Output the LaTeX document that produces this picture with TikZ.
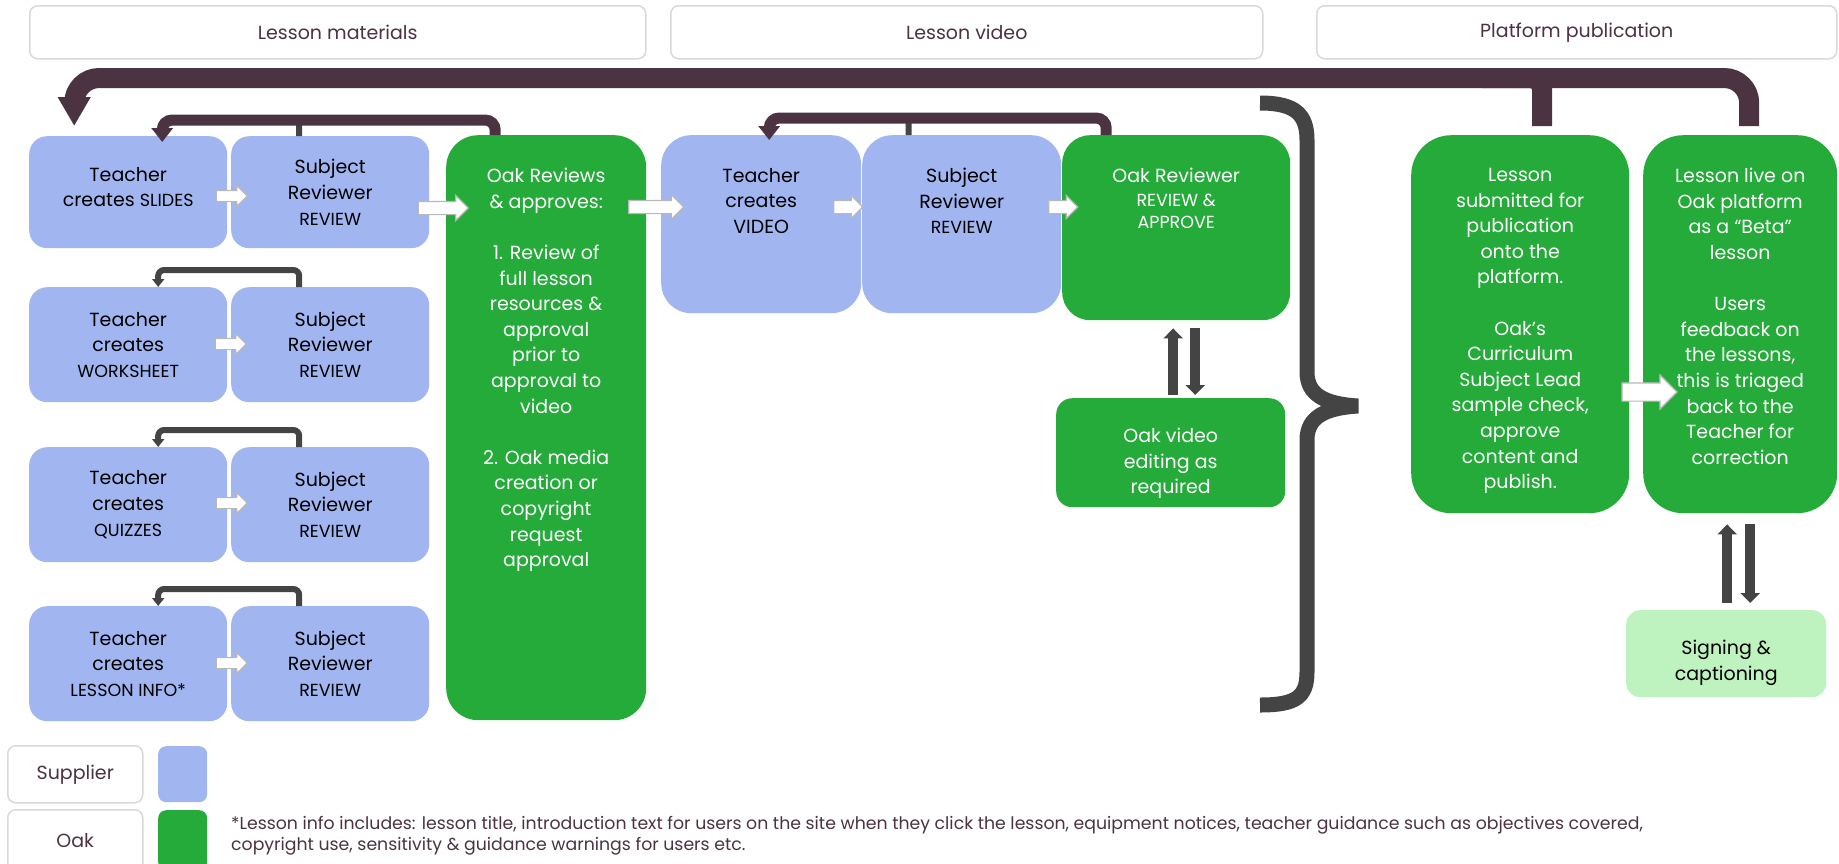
\documentclass[tikz,border=0pt]{standalone}
\usepackage{fontspec}
\setmainfont{Poppins}
\usetikzlibrary{arrows.meta,positioning,shapes.arrows}

\definecolor{supblue}{HTML}{A1B6F0}
\definecolor{oakgreen}{HTML}{25AB3A}
\definecolor{palegreen}{HTML}{BEF2BE}
\definecolor{plum}{HTML}{4B3342}
\definecolor{slate}{HTML}{444444}
\definecolor{rimgray}{HTML}{D9D9D9}

\newcommand{\boxfont}{\fontsize{19}{25.6}\selectfont}
\newcommand{\capsfont}{\fontsize{17.5}{25.6}\selectfont}
\newcommand{\notefont}{\fontsize{17.3}{21.5}\selectfont}

\begin{document}
\begin{tikzpicture}[x=1pt, y=-1pt,
    headbox/.style={draw=rimgray, line width=1.5pt, rounded corners=8pt, fill=white,
      text=plum, font=\boxfont, anchor=north west},
    supbox/.style={fill=supblue, rounded corners=18pt, anchor=north west, align=center, font=\boxfont},
    oakbox/.style={fill=oakgreen, rounded corners=30pt, anchor=north west, text=white, align=center, font=\boxfont},
    boxtext/.style={align=center, font=\boxfont, inner sep=0pt},
    flowarr/.style={single arrow, draw=black!28, fill=white, line width=1.2pt, inner sep=5pt,
      single arrow head extend=5pt, single arrow head indent=0pt},
    backloop/.style={draw=slate, line width=6pt, rounded corners=6pt, -{Triangle[length=8pt,width=12pt]}},
    oakloop/.style={draw=plum, line width=11pt, rounded corners=10pt, -{Triangle[length=14pt,width=21pt]}},
    bigloop/.style={draw=plum, line width=20pt, rounded corners=25pt, -{Triangle[length=29pt,width=31pt]}},
    swaparr/.style={draw=slate, line width=10pt, -{Triangle[length=10pt,width=19pt]}}
  ]
  \useasboundingbox (0,0) rectangle (1839,863);

  % stage headings
  \node[headbox, minimum width=616, minimum height=53] (hmat) at (29,5) {Lesson materials};
  \node[headbox, minimum width=592, minimum height=53] (hvid) at (670,5) {Lesson video};
  \node[headbox, minimum width=520, minimum height=53] (hpub) at (1316,5) {Platform publication};

  % lesson materials
  \node[supbox, minimum width=198, minimum height=112] (tslides) at (29,136) {};
  \node[boxtext, below=31pt of tslides.north] (tslidestxt) {Teacher\\creates {\capsfont SLIDES}};
  \node[supbox, minimum width=198, minimum height=112] (sslides) at (231,136) {Subject\\Reviewer\\{\capsfont REVIEW}};
  \node[supbox, minimum width=198, minimum height=115] (tsheet) at (29,287) {Teacher\\creates\\{\capsfont WORKSHEET}};
  \node[supbox, minimum width=198, minimum height=115] (ssheet) at (231,287) {Subject\\Reviewer\\{\capsfont REVIEW}};
  \node[supbox, minimum width=198, minimum height=115] (tquiz) at (29,447) {Teacher\\creates\\{\capsfont QUIZZES}};
  \node[supbox, minimum width=198, minimum height=115] (squiz) at (231,447) {Subject\\Reviewer\\{\capsfont REVIEW}};
  \node[supbox, minimum width=198, minimum height=115] (tinfo) at (29,606) {Teacher\\creates\\{\capsfont LESSON INFO*}};
  \node[supbox, minimum width=198, minimum height=115] (sinfo) at (231,606) {Subject\\Reviewer\\{\capsfont REVIEW}};

  \node[oakbox, minimum width=200, minimum height=585, rounded corners=32pt] (oakrev) at (446,135) {};
  \node[boxtext, text=white, below=33pt of oakrev.north] (oakrevtxt) {Oak Reviews\\\& approves:\\[25.6pt]
    1. Review of\\full lesson\\resources \&\\approval\\prior to\\approval to\\video\\[25.6pt]
    2. Oak media\\creation or\\copyright\\request\\approval};

  % lesson video
  \node[supbox, minimum width=200, minimum height=178, rounded corners=30pt] (tvideo) at (661,135) {};
  \node[boxtext, below=33pt of tvideo.north] (tvideotxt) {Teacher\\creates\\VIDEO};
  \node[supbox, minimum width=199, minimum height=178, rounded corners=30pt] (svideo) at (862,135) {};
  \node[boxtext, below=33pt of svideo.north] (svideotxt) {Subject\\Reviewer\\{\capsfont REVIEW}};
  \node[oakbox, minimum width=228, minimum height=185, rounded corners=28pt] (oakvid) at (1062,135) {};
  \node[boxtext, text=white, below=33pt of oakvid.north] (oakvidtxt) {Oak Reviewer\\[-2pt]{\capsfont REVIEW \&}\\[-3pt]{\capsfont APPROVE}};
  \node[oakbox, minimum width=229, minimum height=109, rounded corners=16pt] (vedit) at (1056,398) {};
  \node[boxtext, text=white, below=30pt of vedit.north] (vedittxt) {Oak video\\editing as\\required};

  % platform publication
  \node[oakbox, minimum width=218, minimum height=378, rounded corners=40pt] (submit) at (1411,135) {};
  \node[boxtext, text=white, below=33pt of submit.north] (submittxt) {Lesson\\submitted for\\publication\\onto the\\platform.\\[25.6pt]
    Oak's\\Curriculum\\Subject Lead\\sample check,\\approve\\content and\\publish.};
  \node[oakbox, minimum width=194, minimum height=378, rounded corners=40pt] (live) at (1643,135) {};
  \node[boxtext, text=white, below=33pt of live.north] (livetxt) {Lesson live on\\Oak platform\\as a ``Beta''\\lesson\\[25.6pt]
    Users\\feedback on\\the lessons,\\this is triaged\\back to the\\Teacher for\\correction};
  \node[fill=palegreen, rounded corners=14pt, anchor=north west, minimum width=200, minimum height=87] (sign) at (1626,610) {};
  \node[boxtext, below=30pt of sign.north] (signtxt) {Signing \&\\captioning};

  % white step arrows
  \node[flowarr, minimum height=31] (a1) at (229,196) {};
  \node[flowarr, minimum height=31] (a2) at (228,344) {};
  \node[flowarr, minimum height=31] (a3) at (229,503) {};
  \node[flowarr, minimum height=31] (a4) at (229,663) {};
  \node[flowarr, minimum height=50, inner sep=6pt, single arrow head extend=6pt] (a5) at (440,208) {};
  \node[flowarr, minimum height=55, inner sep=6pt, single arrow head extend=6pt] (a6) at (653,207) {};
  \node[flowarr, minimum height=29, inner sep=6pt] (a7) at (845,207) {};
  \node[flowarr, minimum height=29, inner sep=6pt] (a8) at (1060,207) {};
  \node[flowarr, minimum height=55, inner sep=8.5pt, single arrow head extend=8pt] (a9) at (1645,392) {};

  % send-back loops
  \draw[backloop] ([xshift=-31pt]ssheet.north) -- ++(0,-17) -| ([xshift=30pt]tsheet.north);
  \draw[backloop] ([xshift=-31pt]squiz.north) -- ++(0,-17) -| ([xshift=30pt]tquiz.north);
  \draw[backloop] ([xshift=-31pt]sinfo.north) -- ++(0,-17) -| ([xshift=30pt]tinfo.north);
  \draw[backloop] ([xshift=-31pt]sslides.north) -- ++(0,-16) -| ([xshift=33pt]tslides.north);
  \draw[oakloop] ([xshift=-51pt]oakrev.north) -- ++(0,-15) -| ([xshift=34pt,yshift=-6pt]tslides.north);
  \draw[backloop] ([xshift=-53pt]svideo.north) -- ++(0,-17) -| ([xshift=8pt]tvideo.north);
  \draw[oakloop] ([xshift=-70pt]oakvid.north) -- ++(0,-17) -| ([xshift=8pt,yshift=-5pt]tvideo.north);

  \draw[swaparr] ([xshift=2.5pt,yshift=3pt]vedit.north) -- ([xshift=-3pt,yshift=-8pt]oakvid.south);
  \draw[swaparr] ([xshift=19pt,yshift=-8pt]oakvid.south) -- ([xshift=24.5pt,yshift=3pt]vedit.north);
  \draw[swaparr] ([xshift=1pt,yshift=7pt]sign.north) -- ([xshift=-13pt,yshift=-11pt]live.south);
  \draw[swaparr] ([xshift=10pt,yshift=-11pt]live.south) -- ([xshift=24pt,yshift=7pt]sign.north);

  % feedback back to the start
  \draw[plum, line width=20pt, rounded corners=12pt] ([xshift=22pt,yshift=9pt]submit.north) |- ++(-60,-48);
  \draw[bigloop] ([xshift=9pt,yshift=9pt]live.north) -- ++(0,-48) -| ([xshift=-54pt,yshift=10pt]tslides.north);

  % brace
  \draw[slate, line width=15pt] (1260,103) .. controls (1296,103) and (1307,115) .. (1307,140)
    -- (1307,372) .. controls (1307,395) and (1325,404) .. (1358,406)
    .. controls (1325,408) and (1307,417) .. (1307,440)
    -- (1307,672) .. controls (1307,697) and (1296,705) .. (1260,705);

  % legend
  \node[headbox, minimum width=135, minimum height=57] (legsup) at (7,745) {Supplier};
  \node[fill=supblue, rounded corners=8pt, anchor=north west, minimum width=49, minimum height=56] (swsup) at (158,746) {};
  \node[headbox, minimum width=135, minimum height=62] (legoak) at (7,809) {Oak};
  \node[fill=oakgreen, rounded corners=8pt, anchor=north west, minimum width=49, minimum height=60] (swoak) at (158,810) {};
  \node[anchor=north west, align=left, text=plum, font=\notefont, inner sep=0pt] (note) at (231,816)
    {*Lesson info includes: lesson title, introduction text for users on the site when they click the lesson, equipment notices, teacher guidance such as objectives covered,\\
     copyright use, sensitivity \& guidance warnings for users etc.};
\end{tikzpicture}
\end{document}
